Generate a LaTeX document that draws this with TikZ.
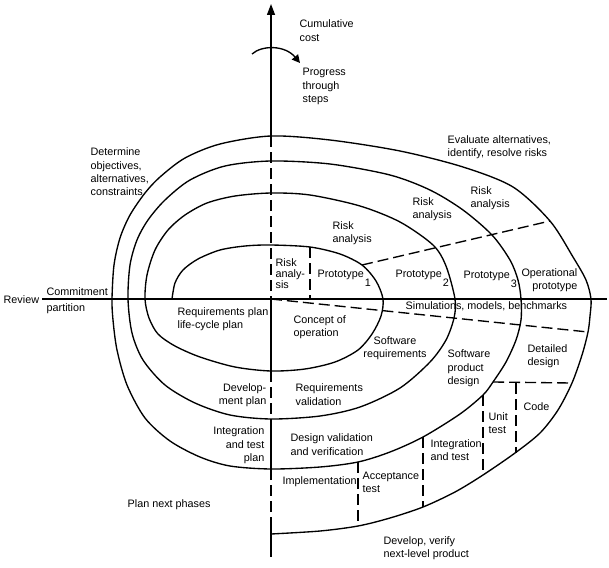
\documentclass[tikz,border=0pt]{standalone}
\usepackage{fontspec}
\setmainfont{Liberation Sans}
\usetikzlibrary{arrows.meta}

\begin{document}
\begin{tikzpicture}[x=1pt,y=-1pt,line width=1.35pt,
        lbl/.style={inner sep=0pt,align=left,font=\fontsize{10.8}{13.4}\selectfont},
        dsh/.style={dash pattern=on 11pt off 5pt}]
    \useasboundingbox (0,0) rectangle (609,567);

    % axes
    \draw[-{Triangle[length=11pt,width=8pt]}] (271,136) -- (271,4);
    \draw[dsh] (271,136) -- (271,299);
    \draw (271,299) -- (271,371);
    \draw[dsh] (271,371) -- (271,419);
    \draw (271,419) -- (271,469);
    \draw[dsh] (271,469) -- (271,520);
    \draw (271,520) -- (271,557);
    \draw (42,299) -- (607,299);
    \draw[-{Triangle[length=8pt,width=8pt]}] (252,54) .. controls (262,45) and (285,45) .. (300,63);

    % spiral
    \draw plot[smooth] coordinates {
        (172,299) (175,283) (183,270) (198,259) (220,250) (245,246) (271,245) (310,247) (340,254) (362,265) (376,281) (383,299)
        (381,316) (372,334) (358,350) (335,362) (305,369) (271,371) (235,367) (200,357) (175,346) (158,334) (149,318) (145,299)
        (147,275) (155,250) (168,230) (185,215) (207,203) (235,196) (271,193) (310,195) (360,206) (400,222) (433,245) (446,266) (455,299)
        (454,318) (446,340) (430,362) (400,388) (360,407) (320,416) (271,419) (230,415) (195,403) (165,385) (143,360) (132,333) (128,299)
        (130,265) (137,240) (148,220) (165,200) (190,180) (225,166) (271,161) (330,164) (390,175) (430,190) (463,210) (492,235) (510,260) (518,280) (521,299)
        (521,320) (516,340) (506,362) (493,382) (483,395) (460,414) (423,437) (390,452) (358,462) (320,467) (271,469) (230,466) (200,457) (170,441) (145,418) (127,385) (117,350) (113,320) (112,299)
        (114,265) (120,238) (130,215) (145,193) (160,177) (185,158) (220,144) (271,136) (330,140) (400,151) (463,167) (513,187) (550,221) (573,257) (586,280) (591,299)
        (590,316) (588,332) (582,355) (572,383) (558,410) (540,433) (515,453) (483,475) (455,492) (423,507) (390,518) (358,526) (320,531) (271,534)};

    % partitions
    \draw[dsh] (310,247) -- (310,299);
    \draw[dsh] (362,265) -- (550,221);
    \draw[dsh] (271,299) -- (588,332);
    \draw[dsh] (493,382) -- (572,383);
    \foreach \x/\ya/\yb in {358/462/526, 423/437/507, 483/395/475, 516/383/453}
        \draw[dsh] (\x,\ya) -- (\x,\yb);

    % labels
    \node[lbl,anchor=west] (review) at (3,300) {Review};
    \node[lbl,anchor=west] (commit) at (46,292) {Commitment};
    \node[lbl,anchor=west] (partition) at (46,308.5) {partition};
    \node[lbl,anchor=west] (cost) at (299,30.5) {Cumulative\\cost};
    \node[lbl,anchor=west] (progress) at (302,86.5) {Progress\\through\\steps};
    \node[lbl,anchor=west] (determine) at (90,172) {Determine\\objectives,\\alternatives,\\constraints};
    \node[lbl,anchor=west] (evaluate) at (447,147) {Evaluate alternatives,\\identify, resolve risks};
    \node[lbl,anchor=west] (riska) at (332,233.5) {Risk\\analysis};
    \node[lbl,anchor=west] (riskb) at (412,209) {Risk\\analysis};
    \node[lbl,anchor=west] (riskc) at (470,198.5) {Risk\\analysis};
    \node[lbl,anchor=west,font=\fontsize{10.8}{11}\selectfont] (riskin) at (275,274) {Risk\\analy-\\sis};
    \node[lbl,anchor=base west] (proto1) at (317,277) {Prototype\kern1pt\raisebox{-9.5pt}{1}};
    \node[lbl,anchor=base west] (proto2) at (395,277) {Prototype\kern1pt\raisebox{-9.5pt}{2}};
    \node[lbl,anchor=base west] (proto3) at (463,278) {Prototype\kern1pt\raisebox{-9.5pt}{3}};
    \node[lbl,anchor=east,align=right] (operational) at (578,280.5) {Operational\\prototype};
    \node[lbl,anchor=west] (simul) at (405,306) {Simulations, models, benchmarks};
    \node[lbl,anchor=west] (reqplan) at (177,319.5) {Requirements plan\\life-cycle plan};
    \node[lbl,anchor=west] (concept) at (293,327) {Concept of\\operation};
    \node[lbl,align=center] (softreq) at (395,348.5) {Software\\requirements};
    \node[lbl,anchor=west] (softprod) at (447,368.5) {Software\\product\\design};
    \node[lbl,anchor=west] (detailed) at (527,356) {Detailed\\design};
    \node[lbl,anchor=west] (code) at (523,406.5) {Code};
    \node[lbl,anchor=west] (unit) at (488,423) {Unit\\test};
    \node[lbl,anchor=west] (inttest) at (430,450) {Integration\\and test};
    \node[lbl,anchor=west] (accept) at (362,482.5) {Acceptance\\test};
    \node[lbl,anchor=west] (impl) at (282,481.5) {Implementation};
    \node[lbl,anchor=west] (designval) at (290,444.5) {Design validation\\and verification};
    \node[lbl,anchor=west] (reqval) at (295,394.5) {Requirements\\validation};
    \node[lbl,anchor=east,align=right] (devplan) at (267,395) {Develop-\\ment plan};
    \node[lbl,anchor=east,align=right] (intplan) at (265,445.5) {Integration\\and test\\plan};
    \node[lbl,anchor=west] (plannext) at (127,505) {Plan next phases};
    \node[lbl,anchor=west] (develop) at (383,548) {Develop, verify\\next-level product};
\end{tikzpicture}
\end{document}
